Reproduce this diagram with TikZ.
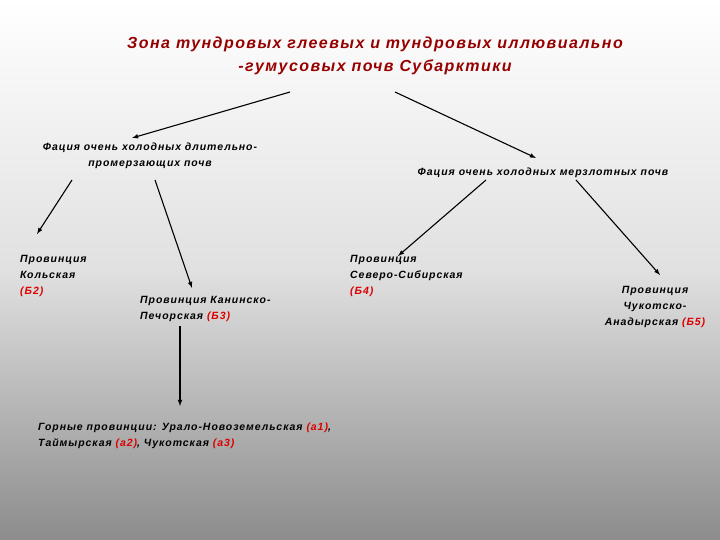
\documentclass[tikz,border=0pt]{standalone}
\usepackage{fontspec}
\setmainfont{Liberation Sans}[LetterSpace=9]
\definecolor{tred}{RGB}{150,0,0}
\definecolor{lred}{RGB}{220,0,0}
\begin{document}
\begin{tikzpicture}[x=1pt,y=-1pt,
  lbl/.style={font=\fontsize{10.5}{16}\selectfont\bfseries\itshape, inner sep=0pt},
  arr/.style={-latex, line width=1.1pt}]
\shade[top color=white, bottom color=black!45, middle color=black!12] (0,0) rectangle (720,540);
\node[font=\fontsize{16}{23}\selectfont\bfseries\itshape, text=tred, align=center, inner sep=0pt] (t) at (375,56)
  {Зона тундровых глеевых и тундровых иллювиально\\-гумусовых почв Субарктики};
\node[lbl, align=center] (f1) at (150,156) {Фация очень холодных длительно-\\промерзающих почв};
\node[lbl] (f2) at (543,173) {Фация очень холодных мерзлотных почв};
\node[lbl, align=left, anchor=north west] (b2) at (20,255) {Провинция\\Кольская\\\textcolor{lred}{(Б2)}};
\node[lbl, align=left, anchor=north west] (b3) at (140,296) {Провинция Канинско-\\Печорская \textcolor{lred}{(Б3)}};
\node[lbl, align=left, anchor=north west] (b4) at (350,255) {Провинция\\Северо-Сибирская\\\textcolor{lred}{(Б4)}};
\node[lbl, align=center, anchor=north] (b5) at (655,286) {Провинция\\Чукотско-\\Анадырская \textcolor{lred}{(Б5)}};
\node[lbl, align=left, anchor=north west] (g) at (38,423) {Горные провинции: Урало-Новоземельская \textcolor{lred}{(а1)},\\Таймырская \textcolor{lred}{(а2)}, Чукотская \textcolor{lred}{(а3)}};
\coordinate (t1) at (290,92); \coordinate (e1) at (132,138);
\coordinate (t2) at (395,92); \coordinate (e2) at (536,158);
\coordinate (s3) at (72,180); \coordinate (e3) at (37,234);
\coordinate (s4) at (155,180); \coordinate (e4) at (192,288);
\coordinate (s5) at (486,180); \coordinate (e5) at (398,256);
\coordinate (s6) at (576,180); \coordinate (e6) at (660,275);
\coordinate (s7) at (180,326); \coordinate (e7) at (180,406);
\draw[arr] (t1) -- (e1);
\draw[arr] (t2) -- (e2);
\draw[arr] (s3) -- (e3);
\draw[arr] (s4) -- (e4);
\draw[arr] (s5) -- (e5);
\draw[arr] (s6) -- (e6);
\draw[arr] (s7) -- (e7);
\end{tikzpicture}
\end{document}
